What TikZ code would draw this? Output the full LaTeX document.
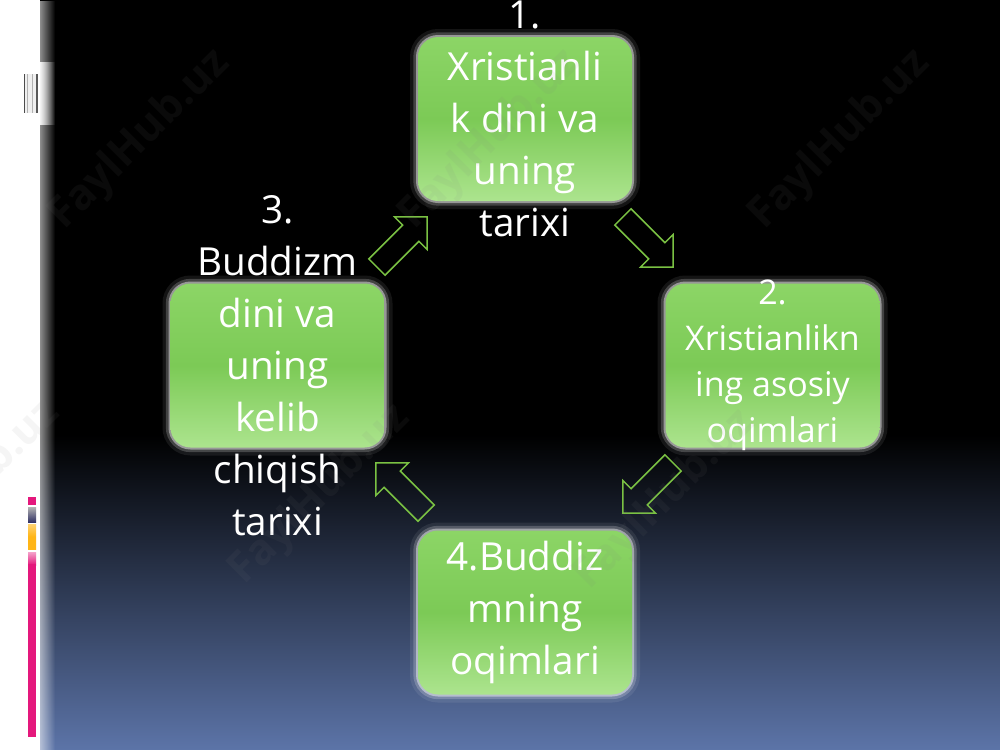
\documentclass[tikz,border=0pt]{standalone}
\usepackage{fontspec}
\setmainfont{Open Sans}
\usetikzlibrary{fadings}
\definecolor{bgblue}{RGB}{92,116,168}
\definecolor{arrowgreen}{RGB}{122,193,67}
\definecolor{gtop}{RGB}{140,213,102}
\definecolor{gmid}{RGB}{124,202,86}
\definecolor{gbot}{RGB}{172,228,142}
\definecolor{wm}{RGB}{128,128,128}
\definecolor{barpink}{RGB}{228,24,124}
\definecolor{barorange}{RGB}{255,181,22}
\tikzset{
 glowbox/.style={rounded corners=15pt, minimum width=160.5pt, minimum height=123pt, inner sep=0pt,
   draw=white, line width=12pt, draw opacity=0.08},
 glowboxb/.style={rounded corners=15pt, minimum width=160.5pt, minimum height=123pt, inner sep=0pt,
   draw=white, line width=7pt, draw opacity=0.2},
 glowboxc/.style={rounded corners=15pt, minimum width=160.5pt, minimum height=123pt, inner sep=0pt,
   draw=white, line width=3pt, draw opacity=0.45},
 box/.style={rounded corners=15pt, minimum width=160.5pt, minimum height=123pt, inner sep=0pt,
   top color=gtop, bottom color=gbot, middle color=gmid},
 bigtext/.style={text=white, align=center, font=\fontsize{29}{39}\selectfont},
 smalltext/.style={text=white, align=center, font=\fontsize{25.5}{34.5}\selectfont},
 blockarrow/.style={draw=arrowgreen, line width=1.1pt, line join=miter},
 watermark/.style={text=wm, opacity=0.08, rotate=45, font=\bfseries\fontsize{32}{32}\selectfont},
}
\newcommand{\blockarr}[3]{%
  \draw[blockarrow, shift={(#1,#2)}, rotate=#3]
    (-35.5,-11.5) -- (12.5,-11.5) -- (12.5,-23) -- (35.5,0) -- (12.5,23) -- (12.5,11.5) -- (-35.5,11.5) -- cycle;}
\begin{document}
\begin{tikzpicture}[x=0.75pt,y=-0.75pt]
\useasboundingbox (0,0) rectangle (1000,750);
% background
\fill[black] (40,0) rectangle (1000,436);
\shade[top color=black, bottom color=bgblue] (40,435) rectangle (1000,750);
\fill[white] (0,0) rectangle (40,750);
\fill[white, fill opacity=0.55, path fading=east] (40,0) rectangle (55,750);
\fill[white, fill opacity=0.9, path fading=east] (40,62) rectangle (55,125);
% left decorations
\fill[gray!12] (24,74) rectangle (38,113);
\draw[gray!60!black, line width=0.8pt] (24.6,74) -- (24.6,113);
\draw[gray!60, line width=0.6pt] (27.5,74) -- (27.5,113);
\draw[gray!60, line width=0.6pt] (32.5,74) -- (32.5,113);
\draw[gray!70!black, line width=0.8pt] (37,74) -- (37,113);
\fill[barpink] (28,497) rectangle (36,505);
\shade[top color=gray!60, bottom color=gray!50!black!80!blue] (28,507) rectangle (36,522);
\shade[top color=barorange!60!white, bottom color=barorange, middle color=barorange] (28,524) rectangle (36,549);
\shade[top color=barpink!40!white, bottom color=barpink] (28,552) rectangle (36,565);
\fill[barpink] (28,564) rectangle (36,737);
% glows
\foreach \p in {(525,119),(772.5,365.5),(277.5,365.5),(525,612.5)}{
  \node[glowbox] at \p {};
  \node[glowboxb] at \p {};
  \node[glowboxc] at \p {};
}
% boxes
\node[box] (b1) at (525,119) {};
\node[box] (b2) at (772.5,365.5) {};
\node[box] (b3) at (277.5,365.5) {};
\node[box] (b4) at (525,612.5) {};
% texts
\node[bigtext] (t1) at (b1.center) {1.\\Xristianli\\k dini va\\uning\\tarixi};
\node[smalltext] (t2) at (b2.center) {2.\\Xristianlikn\\ing asosiy\\oqimlari};
\node[bigtext] (t3) at (b3.center) {3.\\Buddizm\\dini va\\uning\\kelib\\chiqish\\tarixi};
\node[bigtext] (t4) at (b4.center) {4.Buddiz\\mning\\oqimlari};
% block arrows
\blockarr{648}{242}{-45}
\blockarr{648}{488}{-135}
\blockarr{401}{488}{135}
\blockarr{402}{242}{45}
% watermarks
\node[watermark] at (140,140) {FaylHub.uz};
\node[watermark] at (490,140) {FaylHub.uz};
\node[watermark] at (840,140) {FaylHub.uz};
\node[watermark] at (-30,490) {FaylHub.uz};
\node[watermark] at (320,495) {FaylHub.uz};
\node[watermark] at (665,500) {FaylHub.uz};
\end{tikzpicture}
\end{document}
